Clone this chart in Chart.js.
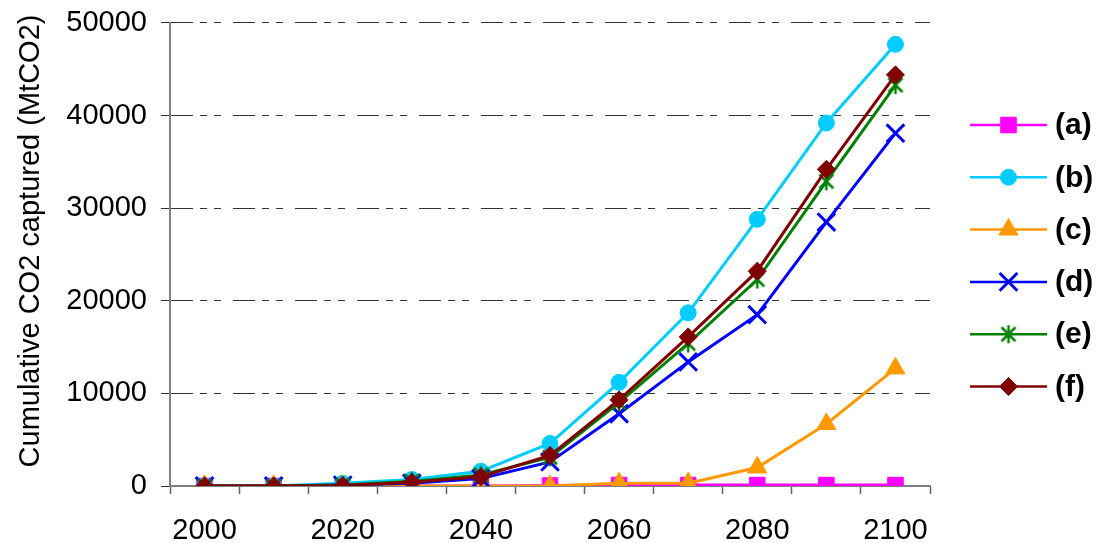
<!DOCTYPE html>
<html>
<head>
<meta charset="utf-8">
<script src="https://cdn.jsdelivr.net/npm/chart.js"></script>
<style>
  html, body { margin: 0; padding: 0; background: #fff; }
  #wrap { width: 1099px; height: 543px; }
</style>
</head>
<body>
<div id="wrap"><canvas id="co2Chart" width="1099" height="543"></canvas></div>
<script>
// Years (category axis), every other one labelled
var years = ['2000', '2010', '2020', '2030', '2040', '2050', '2060', '2070', '2080', '2090', '2100'];
var yTicks = [0, 10000, 20000, 30000, 40000, 50000];
var yTitle = 'Cumulative CO2 captured (MtCO2)';

// Cumulative CO2 captured (MtCO2)
var seriesA = [0, 0, 0, 0, 0, 50, 100, 100, 100, 100, 100];
var seriesB = [0, 0, 300, 700, 1600, 4600, 11200, 18700, 28800, 39200, 47700];
var seriesC = [0, 0, 0, 0, 0, 0, 300, 300, 2000, 6700, 12700];
var seriesD = [0, 0, 100, 300, 800, 2600, 7800, 13400, 18500, 28500, 38100];
var seriesE = [0, 0, 100, 500, 1200, 3100, 9000, 15400, 22300, 32900, 43300];
var seriesF = [0, 0, 50, 400, 1000, 3300, 9300, 16100, 23200, 34200, 44400];

var labels = ['(a)', '(b)', '(c)', '(d)', '(e)', '(f)'];

var FONT = '"Liberation Sans", Arial, sans-serif';

// Excel style asterisk marker: X with a vertical bar
function makeAsterisk(color) {
    var c = document.createElement('canvas');
    c.width = 20; c.height = 20;
    var g = c.getContext('2d');
    g.strokeStyle = color;
    g.lineWidth = 2.5;
    g.beginPath();
    g.moveTo(3, 3); g.lineTo(17, 17);
    g.moveTo(17, 3); g.lineTo(3, 17);
    g.moveTo(10, 1); g.lineTo(10, 19);
    g.stroke();
    return c;
}

function series(label, data, color, style, radius, bw, order) {
    return {
        label: label,
        data: data,
        borderColor: color,
        backgroundColor: color,
        pointBackgroundColor: color,
        pointBorderColor: color,
        pointStyle: style,
        pointRadius: radius,
        pointHoverRadius: radius,
        pointBorderWidth: bw,
        borderWidth: 3,
        tension: 0,
        fill: false,
        order: order
    };
}

// right-hand legend (line + marker + bold label) and the rotated y title
var extras = {
    id: 'extras',
    afterDraw: function(chart) {
        var ctx = chart.ctx;
        chart.data.datasets.forEach(function(ds, i) {
            var y = 125 + i * 52.3;
            ctx.save();
            ctx.strokeStyle = ds.borderColor;
            ctx.lineWidth = 2.5;
            ctx.beginPath();
            ctx.moveTo(970, y);
            ctx.lineTo(1047, y);
            ctx.stroke();
            ctx.fillStyle = ds.pointBackgroundColor;
            ctx.strokeStyle = ds.pointBorderColor;
            ctx.lineWidth = ds.pointBorderWidth;
            Chart.helpers.drawPoint(ctx, {
                pointStyle: ds.pointStyle,
                rotation: 0,
                radius: ds.pointRadius,
                borderWidth: ds.pointBorderWidth
            }, 1008.5, y);
            ctx.fillStyle = '#000';
            ctx.font = 'bold 30px ' + FONT;
            ctx.textBaseline = 'middle';
            ctx.textAlign = 'left';
            ctx.fillText(ds.label, 1055, y + 1);
            ctx.restore();
        });

        ctx.save();
        ctx.translate(31, 241);
        ctx.rotate(-Math.PI / 2);
        ctx.fillStyle = '#000';
        ctx.font = '29px ' + FONT;
        ctx.textAlign = 'center';
        ctx.textBaseline = 'middle';
        ctx.fillText(yTitle, 0, 0);
        ctx.restore();
    }
};

var ctx = document.getElementById('co2Chart').getContext('2d');
new Chart(ctx, {
    type: 'line',
    data: {
        labels: years,
        datasets: [
            series(labels[0], seriesA, '#FF00FF', 'rect', 11, 1, 6),
            series(labels[1], seriesB, '#00CCFF', 'circle', 8, 1, 5),
            series(labels[2], seriesC, '#FF9900', 'triangle', 11, 1, 4),
            series(labels[3], seriesD, '#0000FF', 'crossRot', 12.5, 3, 3),
            series(labels[4], seriesE, '#008000', makeAsterisk('#008000'), 10, 1, 2),
            series(labels[5], seriesF, '#800000', 'rectRot', 9, 1, 1)
        ]
    },
    options: {
        responsive: false,
        animation: false,
        layout: { padding: { left: 0, right: 169, top: 0, bottom: 0 } },
        plugins: {
            legend: { display: false },
            tooltip: { enabled: false }
        },
        scales: {
            x: {
                type: 'category',
                offset: true,
                afterFit: function(axis) { axis.height = 57; },
                grid: {
                    offset: true,
                    drawOnChartArea: false,
                    tickLength: 8,
                    tickColor: '#606060',
                    tickWidth: 1.5
                },
                border: { color: '#808080', width: 2 },
                ticks: {
                    autoSkip: false,
                    maxRotation: 0,
                    padding: 20,
                    color: '#000',
                    font: { family: FONT, size: 29 },
                    callback: function(v, i) { return i % 2 === 0 ? years[i] : ''; }
                }
            },
            y: {
                min: 0,
                max: 50000,
                afterFit: function(axis) { axis.width = 170; },
                afterBuildTicks: function(axis) {
                    axis.ticks = yTicks.map(function(v) { return { value: v }; });
                },
                grid: {
                    color: '#333333',
                    lineWidth: 1,
                    tickLength: 9,
                    tickColor: '#333333',
                    tickWidth: 1
                },
                border: { color: '#808080', width: 2, dash: [22, 7, 7, 7, 7, 12] },
                ticks: {
                    padding: 14,
                    color: '#000',
                    font: { family: FONT, size: 29, lineHeight: 0.62 },
                    callback: function(v) { return String(v); }
                },
                title: { display: false }
            }
        }
    },
    plugins: [extras]
});
</script>
</body>
</html>
